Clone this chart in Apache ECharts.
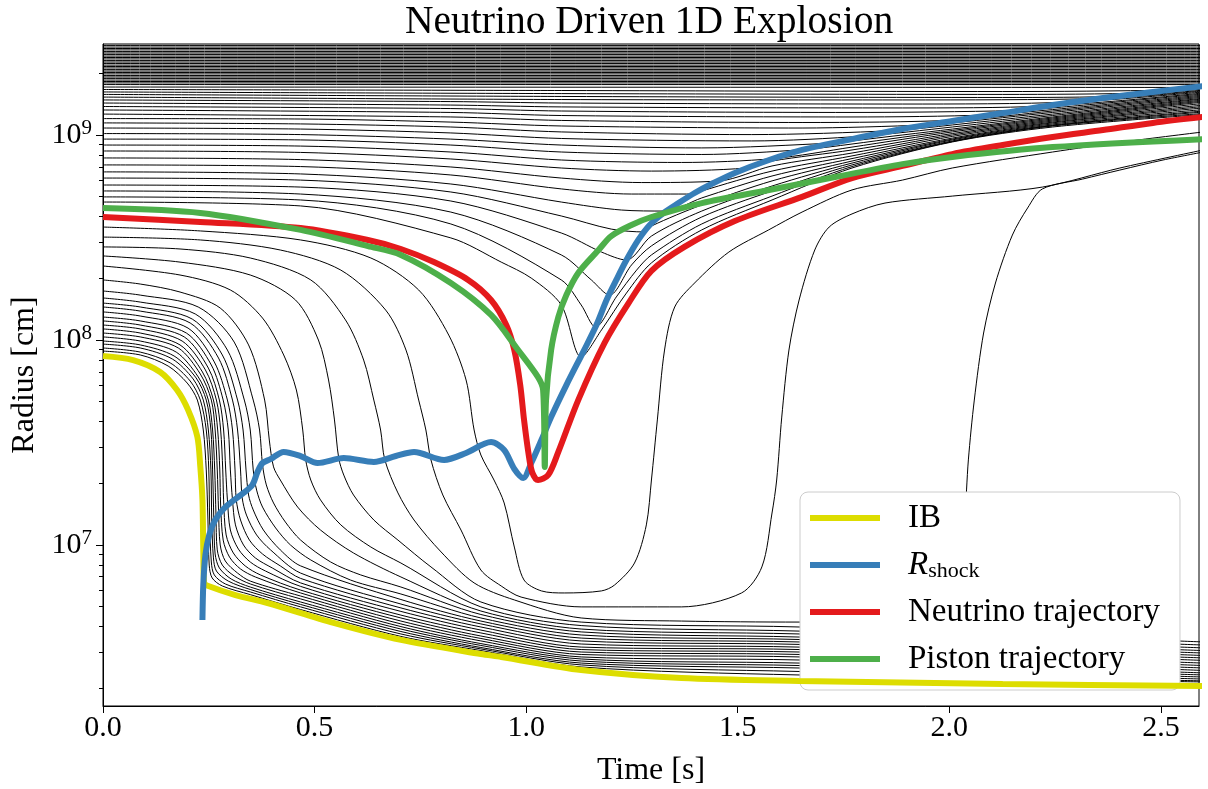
<!DOCTYPE html>
<html>
<head>
<meta charset="utf-8">
<script src="https://cdn.jsdelivr.net/npm/echarts@6/dist/echarts.min.js"></script>
<style>
  html, body { margin: 0; padding: 0; background: #fff; }
  #chart { width: 1208px; height: 789px; }
</style>
</head>
<body>
<div id="chart"></div>
<script>
// Radii are stored as log10(r / cm); times in seconds. Points are [t, log10 r].
const T_END = 2.6;
const timeTicks = [0, 0.5, 1.0, 1.5, 2.0, 2.5];
const radiusDecades = [7, 8, 9];

// Inner boundary of the grid
const innerBoundary = [[0,7.922],[0.071,7.902],[0.135,7.844],[0.175,7.756],[0.201,7.659],[0.223,7.527],[0.230,7.380],[0.235,7.220],[0.237,6.976],[0.239,6.815],[0.249,6.800],[0.313,6.756],[0.389,6.717],[0.545,6.620],[0.704,6.537],[0.893,6.468],[0.941,6.454],[1.130,6.390],[1.367,6.351],[1.645,6.337],[2.126,6.322],[2.6,6.312]];

// Shock radius
const shockRadius = [[0.235,6.634],[0.237,6.805],[0.242,6.951],[0.251,7.049],[0.265,7.122],[0.289,7.185],[0.332,7.254],[0.353,7.293],[0.365,7.356],[0.377,7.400],[0.396,7.419],[0.427,7.454],[0.467,7.434],[0.507,7.400],[0.569,7.424],[0.640,7.405],[0.692,7.434],[0.735,7.454],[0.806,7.415],[0.858,7.449],[0.917,7.502],[0.948,7.463],[0.972,7.371],[0.993,7.327],[1.012,7.400],[1.036,7.512],[1.059,7.624],[1.095,7.780],[1.137,7.951],[1.166,8.073],[1.190,8.195],[1.213,8.293],[1.237,8.390],[1.265,8.488],[1.292,8.561],[1.325,8.620],[1.360,8.668],[1.398,8.717],[1.438,8.761],[1.493,8.815],[1.574,8.878],[1.652,8.927],[1.770,8.980],[1.889,9.029],[2.007,9.068],[2.126,9.107],[2.244,9.146],[2.363,9.180],[2.481,9.210],[2.6,9.239]];

// Neutrino trajectory
const neutrinoTrajectory = [[0,8.600],[0.230,8.576],[0.467,8.546],[0.626,8.488],[0.704,8.444],[0.782,8.380],[0.863,8.293],[0.917,8.195],[0.953,8.073],[0.972,7.951],[0.986,7.780],[0.995,7.610],[1.005,7.454],[1.014,7.356],[1.028,7.317],[1.052,7.341],[1.076,7.454],[1.123,7.707],[1.185,7.985],[1.242,8.180],[1.296,8.337],[1.374,8.454],[1.493,8.580],[1.652,8.698],[1.770,8.790],[1.889,8.849],[2.007,8.907],[2.126,8.951],[2.244,8.990],[2.363,9.024],[2.481,9.059],[2.6,9.088]];

// Piston trajectory
const pistonTrajectory = [[0,8.644],[0.230,8.620],[0.467,8.537],[0.626,8.458],[0.704,8.415],[0.822,8.278],[0.917,8.122],[0.981,7.951],[1.028,7.819],[1.040,7.756],[1.044,7.380],[1.047,7.707],[1.059,7.951],[1.076,8.112],[1.095,8.219],[1.123,8.327],[1.171,8.439],[1.201,8.507],[1.249,8.561],[1.296,8.600],[1.415,8.668],[1.574,8.732],[1.730,8.795],[1.889,8.858],[2.007,8.893],[2.244,8.941],[2.6,8.980]];

// Outer mass shells that stay at a fixed radius for the whole run
const staticShellLogR = [9.437, 9.429, 9.422, 9.415, 9.407, 9.400, 9.393, 9.385, 9.378, 9.371, 9.363, 9.356, 9.349, 9.341, 9.334, 9.327, 9.319, 9.312, 9.305, 9.298, 9.290, 9.283, 9.276, 9.268, 9.261, 9.254, 9.246];

// Mass shells overtaken by the outgoing shock
const shockedShells = [
  [[0,9.234],[2.6,9.232]],
  [[0,9.222],[1.083,9.217],[2.126,9.212],[2.524,9.219],[2.6,9.229]],
  [[0,9.210],[1.083,9.202],[2.126,9.198],[2.469,9.205],[2.6,9.224]],
  [[0,9.198],[1.083,9.188],[2.126,9.183],[2.415,9.190],[2.6,9.219]],
  [[0,9.185],[1.083,9.173],[1.889,9.171],[2.358,9.178],[2.6,9.215]],
  [[0,9.171],[0.822,9.163],[1.083,9.156],[1.889,9.151],[2.291,9.161],[2.6,9.210]],
  [[0,9.156],[0.822,9.146],[1.083,9.137],[1.889,9.132],[2.225,9.141],[2.6,9.205]],
  [[0,9.139],[0.822,9.129],[1.083,9.117],[1.770,9.110],[2.154,9.119],[2.244,9.132],[2.6,9.200]],
  [[0,9.122],[0.822,9.110],[1.083,9.095],[1.770,9.088],[2.090,9.098],[2.244,9.124],[2.6,9.195]],
  [[0,9.102],[0.822,9.088],[1.083,9.071],[1.652,9.061],[2.019,9.073],[2.244,9.117],[2.6,9.190]],
  [[0,9.080],[0.467,9.078],[0.822,9.063],[1.083,9.044],[1.652,9.034],[1.948,9.049],[2.007,9.059],[2.244,9.110],[2.6,9.185]],
  [[0,9.059],[0.467,9.054],[0.822,9.039],[1.083,9.015],[1.533,9.002],[1.872,9.022],[2.007,9.049],[2.244,9.102],[2.6,9.180]],
  [[0,9.034],[0.467,9.029],[0.822,9.010],[1.083,8.983],[1.533,8.971],[1.799,8.995],[2.007,9.039],[2.244,9.095],[2.6,9.176]],
  [[0,9.007],[0.467,9.002],[0.822,8.980],[1.083,8.951],[1.415,8.937],[1.727,8.961],[1.770,8.971],[2.007,9.029],[2.244,9.088],[2.6,9.171]],
  [[0,8.980],[0.467,8.976],[0.822,8.951],[1.083,8.917],[1.415,8.905],[1.656,8.929],[1.770,8.956],[2.007,9.022],[2.244,9.083],[2.6,9.166]],
  [[0,8.951],[0.467,8.946],[0.822,8.917],[1.083,8.878],[1.367,8.866],[1.585,8.885],[1.770,8.941],[2.007,9.015],[2.244,9.078],[2.6,9.161]],
  [[0,8.922],[0.467,8.915],[0.822,8.883],[1.083,8.839],[1.296,8.824],[1.521,8.839],[1.581,8.873],[1.770,8.927],[2.007,9.007],[2.244,9.073],[2.6,9.154]],
  [[0,8.888],[0.467,8.880],[0.822,8.844],[1.083,8.790],[1.273,8.768],[1.457,8.776],[1.581,8.849],[1.770,8.912],[2.007,9.000],[2.244,9.068],[2.6,9.146]],
  [[0,8.854],[0.467,8.846],[0.822,8.805],[1.083,8.737],[1.249,8.712],[1.396,8.712],[1.415,8.727],[1.581,8.824],[1.770,8.898],[2.007,8.993],[2.244,9.063],[2.6,9.139]],
  [[0,8.820],[0.467,8.810],[0.822,8.761],[1.083,8.673],[1.225,8.634],[1.329,8.629],[1.415,8.693],[1.581,8.800],[1.770,8.885],[2.007,8.985],[2.244,9.059],[2.6,9.132]],
  [[0,8.790],[0.467,8.780],[0.822,8.722],[1.083,8.605],[1.201,8.541],[1.280,8.527],[1.296,8.556],[1.415,8.659],[1.581,8.776],[1.770,8.873],[2.007,8.980],[2.244,9.054],[2.6,9.124]],
  [[0,8.756],[0.467,8.746],[0.822,8.678],[1.083,8.522],[1.178,8.429],[1.237,8.390],[1.296,8.507],[1.415,8.629],[1.581,8.751],[1.770,8.863],[2.007,8.976],[2.244,9.049],[2.6,9.117]],
  [[0,8.727],[0.467,8.712],[0.822,8.624],[1.083,8.415],[1.154,8.293],[1.197,8.219],[1.249,8.366],[1.296,8.459],[1.415,8.600],[1.581,8.727],[1.770,8.854],[2.007,8.971],[2.244,9.046],[2.6,9.112]],
  [[0,8.698],[0.467,8.683],[0.822,8.566],[1.083,8.293],[1.130,8.171],[1.164,8.063],[1.213,8.210],[1.261,8.341],[1.296,8.415],[1.415,8.566],[1.581,8.702],[1.770,8.846],[2.007,8.968],[2.244,9.044],[2.6,9.105]],
  [[0,8.673],[0.467,8.654],[0.822,8.498],[0.941,8.380],[1.012,8.302],[1.083,8.171],[1.130,7.917],[1.178,8.049],[1.237,8.229],[1.296,8.376],[1.415,8.537],[1.581,8.683],[1.770,8.839],[2.007,8.966],[2.244,9.039],[2.6,9.100]]
];

// Inner mass shells that collapse onto the proto-neutron star
const collapsedShells = [
  [[0,7.946],[0.088,7.927],[0.154,7.873],[0.199,7.790],[0.223,7.707],[0.237,7.561],[0.244,7.366],[0.248,7.122],[0.251,6.902],[0.258,6.839],[0.282,6.800],[0.348,6.758],[0.467,6.685],[0.704,6.554],[0.893,6.485],[1.130,6.405],[1.645,6.366],[2.6,6.332]],
  [[0,7.961],[0.088,7.941],[0.159,7.888],[0.206,7.800],[0.230,7.707],[0.244,7.561],[0.250,7.366],[0.252,7.122],[0.256,6.917],[0.263,6.854],[0.289,6.810],[0.348,6.771],[0.467,6.698],[0.704,6.566],[0.893,6.493],[1.130,6.415],[1.645,6.383],[2.6,6.337]],
  [[0,7.980],[0.088,7.961],[0.164,7.907],[0.213,7.810],[0.237,7.707],[0.249,7.561],[0.255,7.366],[0.257,7.122],[0.261,6.937],[0.268,6.873],[0.296,6.824],[0.348,6.783],[0.467,6.710],[0.704,6.578],[0.893,6.500],[1.130,6.424],[1.645,6.400],[2.6,6.346]],
  [[0,7.995],[0.088,7.976],[0.168,7.922],[0.220,7.815],[0.244,7.707],[0.255,7.561],[0.259,7.366],[0.262,7.122],[0.265,6.956],[0.275,6.888],[0.303,6.834],[0.348,6.795],[0.467,6.722],[0.704,6.590],[0.893,6.510],[1.130,6.434],[1.645,6.412],[2.6,6.356]],
  [[0,8.015],[0.088,7.995],[0.173,7.941],[0.225,7.820],[0.249,7.707],[0.259,7.561],[0.264,7.366],[0.267,7.146],[0.270,6.976],[0.282,6.902],[0.310,6.849],[0.348,6.810],[0.467,6.737],[0.704,6.602],[0.893,6.519],[1.130,6.444],[1.645,6.424],[2.6,6.366]],
  [[0,8.034],[0.088,8.015],[0.178,7.961],[0.230,7.834],[0.256,7.707],[0.265,7.561],[0.270,7.366],[0.273,7.171],[0.277,7.000],[0.289,6.922],[0.318,6.863],[0.348,6.824],[0.467,6.751],[0.704,6.615],[0.893,6.532],[1.130,6.454],[1.645,6.439],[2.6,6.376]],
  [[0,8.054],[0.088,8.034],[0.182,7.976],[0.235,7.844],[0.261,7.707],[0.271,7.561],[0.276,7.366],[0.278,7.195],[0.284,7.024],[0.299,6.941],[0.325,6.883],[0.360,6.844],[0.467,6.766],[0.704,6.629],[0.893,6.544],[1.130,6.466],[1.645,6.454],[2.6,6.388]],
  [[0,8.073],[0.088,8.054],[0.187,7.995],[0.242,7.854],[0.268,7.707],[0.278,7.561],[0.283,7.366],[0.285,7.220],[0.291,7.049],[0.308,6.961],[0.336,6.898],[0.372,6.854],[0.467,6.780],[0.704,6.644],[0.893,6.556],[1.130,6.478],[1.645,6.466],[2.6,6.400]],
  [[0,8.093],[0.088,8.073],[0.192,8.015],[0.249,7.863],[0.275,7.707],[0.285,7.561],[0.290,7.366],[0.294,7.220],[0.301,7.073],[0.320,6.980],[0.348,6.917],[0.384,6.873],[0.467,6.798],[0.704,6.658],[0.893,6.571],[1.130,6.490],[1.645,6.478],[2.6,6.412]],
  [[0,8.112],[0.088,8.093],[0.197,8.034],[0.256,7.878],[0.284,7.707],[0.296,7.561],[0.301,7.366],[0.306,7.220],[0.313,7.098],[0.332,7.000],[0.360,6.937],[0.400,6.888],[0.467,6.815],[0.704,6.676],[0.893,6.585],[1.130,6.502],[1.645,6.490],[2.6,6.424]],
  [[0,8.137],[0.088,8.117],[0.201,8.058],[0.263,7.893],[0.294,7.707],[0.306,7.561],[0.312,7.366],[0.315,7.220],[0.325,7.122],[0.346,7.024],[0.377,6.956],[0.419,6.898],[0.467,6.837],[0.704,6.693],[0.893,6.600],[1.130,6.517],[1.645,6.502],[2.6,6.437]],
  [[0,8.161],[0.088,8.141],[0.206,8.083],[0.273,7.912],[0.306,7.707],[0.318,7.561],[0.325,7.366],[0.329,7.229],[0.339,7.146],[0.363,7.049],[0.396,6.976],[0.467,6.863],[0.704,6.712],[0.893,6.615],[1.130,6.532],[1.645,6.515],[2.6,6.449]],
  [[0,8.180],[0.088,8.161],[0.211,8.102],[0.282,7.927],[0.318,7.707],[0.331,7.561],[0.338,7.366],[0.344,7.244],[0.355,7.171],[0.379,7.073],[0.419,6.976],[0.467,6.898],[0.704,6.734],[0.893,6.629],[1.130,6.546],[1.645,6.527],[2.6,6.461]],
  [[0,8.205],[0.088,8.185],[0.218,8.127],[0.294,7.951],[0.334,7.707],[0.348,7.561],[0.355,7.366],[0.363,7.268],[0.377,7.185],[0.408,7.083],[0.443,7.000],[0.491,6.927],[0.585,6.829],[0.704,6.761],[0.893,6.644],[1.130,6.561],[1.645,6.539],[2.6,6.473]],
  [[0,8.239],[0.088,8.219],[0.225,8.161],[0.310,7.990],[0.355,7.707],[0.370,7.561],[0.377,7.390],[0.386,7.293],[0.403,7.205],[0.431,7.112],[0.467,7.024],[0.538,6.917],[0.609,6.854],[0.704,6.795],[0.893,6.661],[1.130,6.576],[1.645,6.551],[2.6,6.485]],
  [[0,8.293],[0.088,8.273],[0.182,8.234],[0.277,8.156],[0.344,7.976],[0.382,7.707],[0.393,7.512],[0.403,7.381],[0.419,7.317],[0.460,7.185],[0.514,7.073],[0.592,6.961],[0.704,6.844],[0.893,6.678],[1.130,6.590],[1.645,6.566],[2.6,6.498]],
  [[0,8.361],[0.182,8.317],[0.301,8.244],[0.377,8.107],[0.427,7.927],[0.457,7.756],[0.472,7.561],[0.479,7.415],[0.491,7.317],[0.514,7.220],[0.562,7.098],[0.633,6.990],[0.704,6.912],[0.893,6.698],[1.130,6.607],[1.645,6.580],[2.6,6.512]],
  [[0,8.410],[0.182,8.380],[0.348,8.317],[0.455,8.195],[0.509,8.000],[0.533,7.805],[0.547,7.610],[0.557,7.424],[0.569,7.341],[0.592,7.244],[0.640,7.122],[0.697,7.024],[0.775,6.893],[0.893,6.722],[1.130,6.624],[1.645,6.600],[2.6,6.527]],
  // shells that fall in and are later lifted by the explosion
  [[0,8.454],[0.182,8.444],[0.348,8.400],[0.491,8.293],[0.573,8.098],[0.616,7.902],[0.640,7.707],[0.656,7.561],[0.666,7.415],[0.697,7.254],[0.735,7.122],[0.799,6.966],[0.877,6.815],[0.972,6.732],[1.130,6.644],[1.367,6.629],[1.645,6.624],[1.889,6.639],[1.983,6.693],[2.019,6.829],[2.036,7.122],[2.045,7.415],[2.059,7.707],[2.081,8.034],[2.109,8.278],[2.149,8.512],[2.185,8.644],[2.220,8.737],[2.315,8.785],[2.403,8.829],[2.505,8.878],[2.6,8.917]],
  [[0,8.502],[0.230,8.488],[0.419,8.439],[0.562,8.341],[0.668,8.146],[0.716,7.951],[0.746,7.707],[0.763,7.561],[0.775,7.415],[0.803,7.244],[0.846,7.073],[0.893,6.878],[0.941,6.800],[0.988,6.746],[1.130,6.698],[1.367,6.698],[1.509,6.766],[1.557,6.893],[1.581,7.156],[1.592,7.317],[1.604,7.624],[1.621,7.951],[1.645,8.195],[1.682,8.439],[1.716,8.551],[1.770,8.615],[1.848,8.668],[2.007,8.702],[2.220,8.746],[2.403,8.839],[2.6,8.927]],
  [[0,8.551],[0.230,8.532],[0.467,8.488],[0.633,8.400],[0.746,8.244],[0.817,8.024],[0.858,7.805],[0.877,7.561],[0.893,7.439],[0.924,7.317],[0.948,7.205],[0.972,6.990],[0.995,6.829],[1.036,6.776],[1.090,6.766],[1.178,6.776],[1.209,6.805],[1.256,6.912],[1.284,7.098],[1.296,7.317],[1.310,7.610],[1.327,7.951],[1.351,8.161],[1.398,8.278],[1.479,8.429],[1.573,8.537],[1.652,8.624],[1.770,8.732],[1.889,8.780],[2.007,8.839],[2.244,8.917],[2.410,8.966],[2.6,9.015]]
];

const FONT = 'Liberation Serif';
const X_MAX = 2.59;
const Y_MIN = 6.2146, Y_MAX = 9.4439;

// minor ticks of the logarithmic radius axis at 2..9 x 10^n
const minorTicks = [];
for (let n = 6; n <= 9; n++) {
  for (let k = 2; k <= 9; k++) {
    const v = n + Math.log10(k);
    if (v > Y_MIN && v < Y_MAX) minorTicks.push(v);
  }
}

const shellBase = {
  type: 'line', symbol: 'none', showSymbol: false, silent: true,
  smooth: 0.3, animation: false,
  lineStyle: { color: '#000', width: 1 },
  emphasis: { disabled: true }, z: 2
};

const series = [];
staticShellLogR.forEach(v => series.push(Object.assign({}, shellBase, { data: [[0, v], [T_END, v]] })));
shockedShells.forEach(d => series.push(Object.assign({}, shellBase, { data: d })));
collapsedShells.forEach(d => series.push(Object.assign({}, shellBase, { data: d })));

function track(name, data, color) {
  return {
    name, type: 'line', data, symbol: 'none', showSymbol: false, silent: true,
    smooth: 0.3, animation: false,
    lineStyle: { color, width: 6 }, itemStyle: { color },
    emphasis: { disabled: true }, z: 5
  };
}
series.push(track('IB', innerBoundary, '#dddd00'));
series.push(track('R_shock', shockRadius, '#377eb8'));
series.push(track('Neutrino trajectory', neutrinoTrajectory, '#e41a1c'));
series.push(track('Piston trajectory', pistonTrajectory, '#4daf4a'));

const chart = echarts.init(document.getElementById('chart'), null, { renderer: 'canvas' });
chart.setOption({
  animation: false,
  backgroundColor: '#fff',
  title: {
    text: 'Neutrino Driven 1D Explosion',
    left: 405, top: 3, padding: 0,
    textStyle: { fontFamily: FONT, fontSize: 39.5, fontWeight: 'normal', color: '#000' }
  },
  grid: {
    left: 103, top: 44, width: 1096, height: 662,
    show: true, borderColor: '#000', borderWidth: 1, backgroundColor: 'transparent',
    outerBoundsMode: 'none'
  },
  legend: {
    data: ['IB', 'R_shock', 'Neutrino trajectory', 'Piston trajectory'],
    orient: 'vertical', left: 800, top: 492,
    icon: 'rect', itemWidth: 70, itemHeight: 6, itemGap: 13,
    padding: [9, 20, 14, 10],
    backgroundColor: '#fff', borderColor: '#cccccc', borderWidth: 1, borderRadius: 8,
    selectedMode: false,
    formatter: name => name === 'R_shock' ? '{i|R}{s|shock}' : name,
    textStyle: {
      fontFamily: FONT, fontSize: 33, color: '#000', lineHeight: 34, padding: [0, 0, 0, 23],
      rich: {
        i: { fontFamily: FONT, fontSize: 33, fontStyle: 'italic', color: '#000', lineHeight: 34 },
        s: { fontFamily: FONT, fontSize: 22, color: '#000', lineHeight: 16, verticalAlign: 'bottom' }
      }
    }
  },
  xAxis: {
    type: 'value', min: 0, max: X_MAX,
    name: 'Time [s]', nameLocation: 'middle', nameGap: 49,
    nameTextStyle: { fontFamily: FONT, fontSize: 32, color: '#000' },
    axisLine: { show: true, lineStyle: { color: '#000', width: 1 } },
    axisTick: { show: true, inside: false, length: 7, customValues: timeTicks, lineStyle: { color: '#000', width: 1 } },
    axisLabel: { customValues: timeTicks, formatter: v => v.toFixed(1), margin: 7,
      fontFamily: FONT, fontSize: 30, color: '#000' },
    splitLine: { show: false }
  },
  yAxis: [{
    type: 'value', min: Y_MIN, max: Y_MAX,
    name: 'Radius [cm]', nameLocation: 'middle', nameGap: 62, nameRotate: 90,
    nameTextStyle: { fontFamily: FONT, fontSize: 32, color: '#000' },
    axisLine: { show: true, lineStyle: { color: '#000', width: 1 } },
    axisTick: { show: true, inside: false, length: 7, customValues: radiusDecades, lineStyle: { color: '#000', width: 1 } },
    axisLabel: {
      customValues: radiusDecades, margin: 11,
      formatter: v => '{b|10}{e|' + Math.round(v) + '}',
      rich: {
        b: { fontFamily: FONT, fontSize: 30, color: '#000', lineHeight: 34 },
        e: { fontFamily: FONT, fontSize: 21, color: '#000', lineHeight: 14, verticalAlign: 'top' }
      }
    },
    splitLine: { show: false }
  }, {
    type: 'value', min: Y_MIN, max: Y_MAX, position: 'left', offset: 0,
    axisLine: { show: false },
    axisTick: { show: true, inside: false, length: 4, customValues: minorTicks, lineStyle: { color: '#000', width: 1 } },
    axisLabel: { show: false },
    splitLine: { show: false }
  }],
  series
});
</script>
</body>
</html>
